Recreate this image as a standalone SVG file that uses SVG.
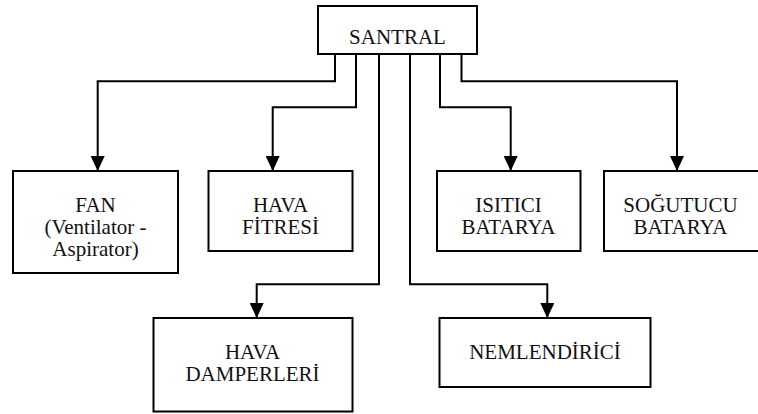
<svg xmlns="http://www.w3.org/2000/svg" width="758" height="414" viewBox="0 0 758 414">
<style>
.box{fill:#fff;stroke:#000;stroke-width:2}
.lbl{font-family:"Liberation Serif","Times New Roman",serif;font-size:21px;fill:#111;text-anchor:middle}
.con{fill:none;stroke:#000;stroke-width:2}
</style>
<defs>
<marker id="arr" viewBox="0 0 15 14" refX="15" refY="7" markerWidth="15" markerHeight="14" markerUnits="userSpaceOnUse" orient="auto">
<path d="M0,0 L15,7 L0,14 z" fill="#000"/>
</marker>
</defs>
<rect width="758" height="414" fill="#fff"/>
<g id="connectors">
<path class="con" d="M335,54 V81.3 H97.7 V171" marker-end="url(#arr)"/>
<path class="con" d="M356,54 V107.3 H272.7 V171" marker-end="url(#arr)"/>
<path class="con" d="M379,54 V284.3 H256.7 V318" marker-end="url(#arr)"/>
<path class="con" d="M410,54 V284.3 H547.3 V318" marker-end="url(#arr)"/>
<path class="con" d="M440,54 V107.3 H510.7 V171" marker-end="url(#arr)"/>
<path class="con" d="M461.5,54 V81.3 H677 V171" marker-end="url(#arr)"/>
</g>
<g id="santral">
<rect class="box" x="318" y="6" width="159" height="48"/>
<text class="lbl" x="397.5" y="44">SANTRAL</text>
</g>
<g id="fan">
<rect class="box" x="13" y="171" width="165" height="102"/>
<text class="lbl" x="95.5" y="211.5">FAN</text>
<text class="lbl" x="95.5" y="233.5">(Ventilator -</text>
<text class="lbl" x="95.5" y="255.5">Aspirator)</text>
</g>
<g id="hava-fitresi">
<rect class="box" x="208.5" y="171" width="144" height="80"/>
<text class="lbl" x="280.5" y="211.5">HAVA</text>
<text class="lbl" x="280.5" y="233.5">FİTRESİ</text>
</g>
<g id="isitici-batarya">
<rect class="box" x="437" y="171" width="143.5" height="80"/>
<text class="lbl" x="508.5" y="211.5">ISITICI</text>
<text class="lbl" x="508.5" y="233.5">BATARYA</text>
</g>
<g id="sogutucu-batarya">
<rect class="box" x="604" y="171" width="156" height="80"/>
<text class="lbl" x="680.5" y="211.5">SOĞUTUCU</text>
<text class="lbl" x="680.5" y="233.5">BATARYA</text>
</g>
<g id="hava-damperleri">
<rect class="box" x="153.5" y="318" width="199" height="93.5"/>
<text class="lbl" x="252.5" y="358.5">HAVA</text>
<text class="lbl" x="252.5" y="381">DAMPERLERİ</text>
</g>
<g id="nemlendirici">
<rect class="box" x="439.5" y="318" width="211" height="69"/>
<text class="lbl" x="545" y="359">NEMLENDİRİCİ</text>
</g>
</svg>
